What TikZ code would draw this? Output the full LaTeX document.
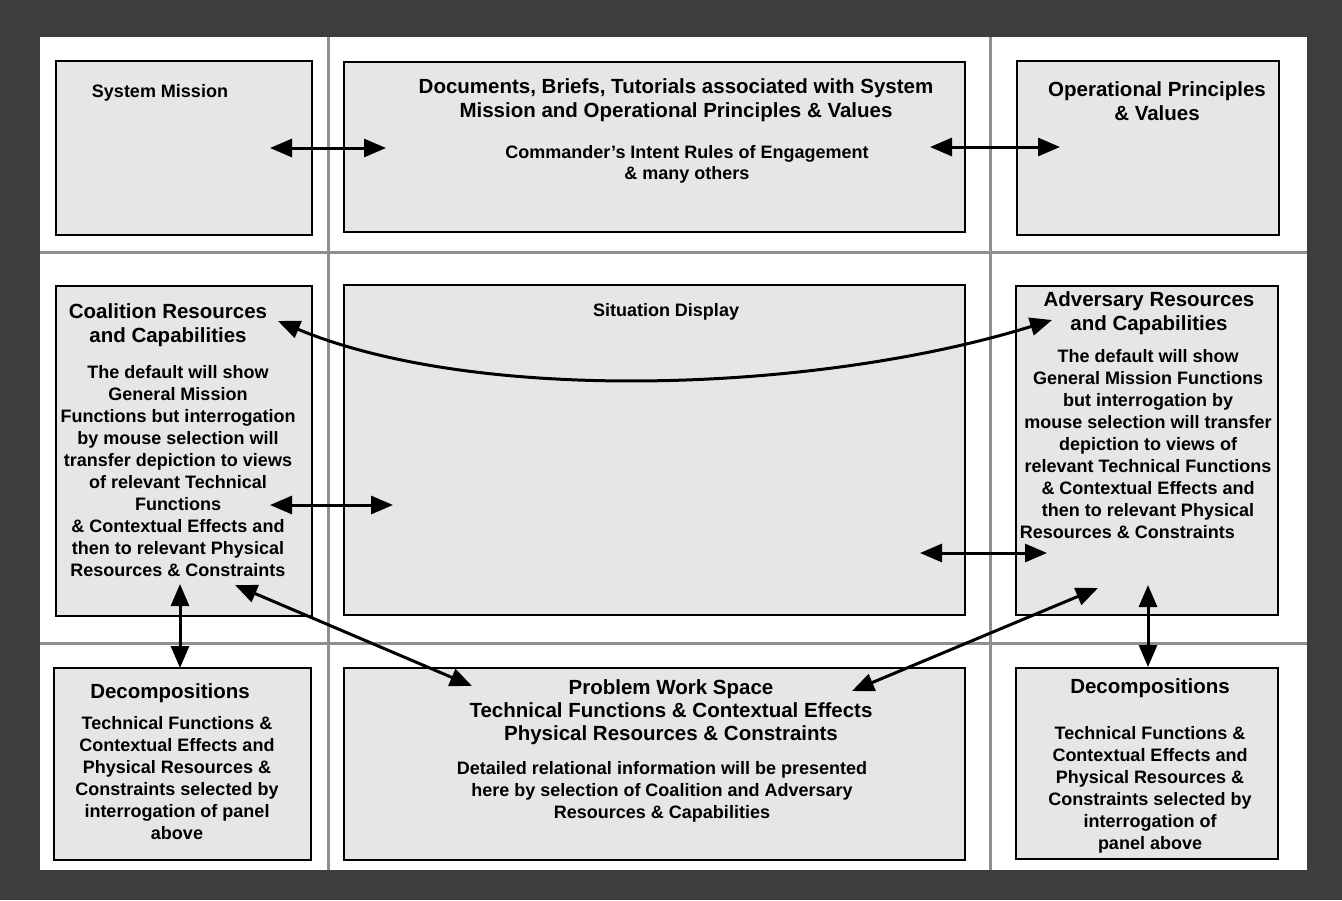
\documentclass[tikz,border=0pt]{standalone}
\usepackage{fontspec}
\setmainfont{Liberation Sans}
\usetikzlibrary{arrows.meta,fit}
\definecolor{framedark}{HTML}{3D3D3D}
\definecolor{panelfill}{HTML}{E6E6E6}
\definecolor{gridgrey}{HTML}{8F8F8F}

\begin{document}
\begin{tikzpicture}[x=0.5pt,y=-0.5pt,
  panelbox/.style={draw=black, line width=1pt, fill=panelfill, rectangle, inner sep=0pt},
  ttl/.style={font=\fontsize{10.25}{12}\selectfont\bfseries, align=center, inner sep=0pt},
  txt/.style={font=\fontsize{9}{11}\selectfont\bfseries, align=center, inner sep=0pt},
  link/.style={line width=1.5pt, {Triangle[length=11pt,width=9pt]}-{Triangle[length=11pt,width=9pt]}},
  divider/.style={draw=gridgrey, line width=1.5pt}]

% page and dark surround
\useasboundingbox (0,0) rectangle (1342,900);
\fill[framedark] (0,0) rectangle (1342,900);
\fill[white] (40,37) rectangle (1307,870);

% dividing lines of the 3x3 layout
\draw[divider] (328,37) -- (328,870);
\draw[divider] (990,37) -- (990,870);
\draw[divider] (40,252) -- (1307,252);
\draw[divider] (40,643) -- (1307,643);

% panels
\node[panelbox, fit={(56,61) (312,235)}] (mission) {};
\node[panelbox, fit={(344,62) (965,232)}] (docs) {};
\node[panelbox, fit={(1017,61) (1279,235)}] (values) {};
\node[panelbox, fit={(56,286) (312,616)}] (coalition) {};
\node[panelbox, fit={(344,285) (965,615)}] (situation) {};
\node[panelbox, fit={(1016,286) (1278,615)}] (adversary) {};
\node[panelbox, fit={(54,668) (311,860)}] (decompL) {};
\node[panelbox, fit={(344,668) (965,860)}] (workspace) {};
\node[panelbox, fit={(1016,668) (1278,859)}] (decompR) {};

% panel texts
\node[txt] (t-mission) at (160,93) {System Mission};
\node[ttl] (t-docs) at (676,100) {Documents, Briefs, Tutorials associated with System\\Mission and Operational Principles \& Values};
\node[txt, font=\fontsize{9}{10.5}\selectfont\bfseries] (t-intent) at (687,164) {Commander's Intent Rules of Engagement\\\& many others};
\node[ttl] (t-values) at (1157,101) {Operational Principles\\\& Values};

\node[ttl] (t-coal) at (168,325) {Coalition Resources\\and Capabilities};
\node[txt] (t-coalbody) at (178,471) {The default will show\\General Mission\\Functions but interrogation\\by mouse selection will\\transfer depiction to views\\of relevant Technical\\Functions\\\& Contextual Effects and\\then to relevant Physical\\Resources \& Constraints};
\node[txt] (t-sit) at (666,312) {Situation Display};
\node[ttl] (t-adv) at (1149,313) {Adversary Resources\\and Capabilities};
\node[txt] (t-advbody) at (1148,444) {The default will show\\General Mission Functions\\but interrogation by\\mouse selection will transfer\\depiction to views of\\relevant Technical Functions\\\& Contextual Effects and\\then to relevant Physical\\Resources \& Constraints\hspace*{2.3em}};

\node[ttl] (t-decL) at (170,693) {Decompositions};
\node[txt] (t-decLbody) at (177,778) {Technical Functions \&\\Contextual Effects and\\Physical Resources \&\\Constraints selected by\\interrogation of panel\\above};
\node[ttl, font=\fontsize{10.25}{11.5}\selectfont\bfseries] (t-ws) at (671,712) {Problem Work Space\\Technical Functions \& Contextual Effects\\Physical Resources \& Constraints};
\node[txt] (t-wsbody) at (662,792) {Detailed relational information will be presented\\here by selection of Coalition and Adversary\\Resources \& Capabilities};
\node[ttl] (t-decR) at (1150,688) {Decompositions};
\node[txt] (t-decRbody) at (1150,790) {Technical Functions \&\\Contextual Effects and\\Physical Resources \&\\Constraints selected by\\interrogation of\\panel above};

% arrow ends
\coordinate (m-r) at (270,148);   \coordinate (d-l) at (386,148);
\coordinate (d-r) at (930,147);   \coordinate (v-l) at (1060,147);
\coordinate (c-top) at (278,321); \coordinate (a-top) at (1052,320);
\coordinate (c-mid) at (270,505); \coordinate (s-l) at (393,505);
\coordinate (s-r) at (920,553);   \coordinate (a-mid) at (1047,553);
\coordinate (c-bot) at (180,584); \coordinate (dl-top) at (180,668);
\coordinate (a-bot) at (1148,585);\coordinate (dr-top) at (1148,667);
\coordinate (c-diag) at (235,585);\coordinate (w-l) at (472,686);
\coordinate (a-diag) at (1098,588);\coordinate (w-r) at (852,691);

% connectors
\draw[link] (m-r) -- (d-l);
\draw[link] (d-r) -- (v-l);
\draw[link] (c-top) .. controls (480,405) and (820,392) .. (a-top);
\draw[link] (c-mid) -- (s-l);
\draw[link] (s-r) -- (a-mid);
\draw[link] (c-bot) -- (dl-top);
\draw[link] (a-bot) -- (dr-top);
\draw[link] (c-diag) -- (w-l);
\draw[link] (a-diag) -- (w-r);
\end{tikzpicture}
\end{document}
